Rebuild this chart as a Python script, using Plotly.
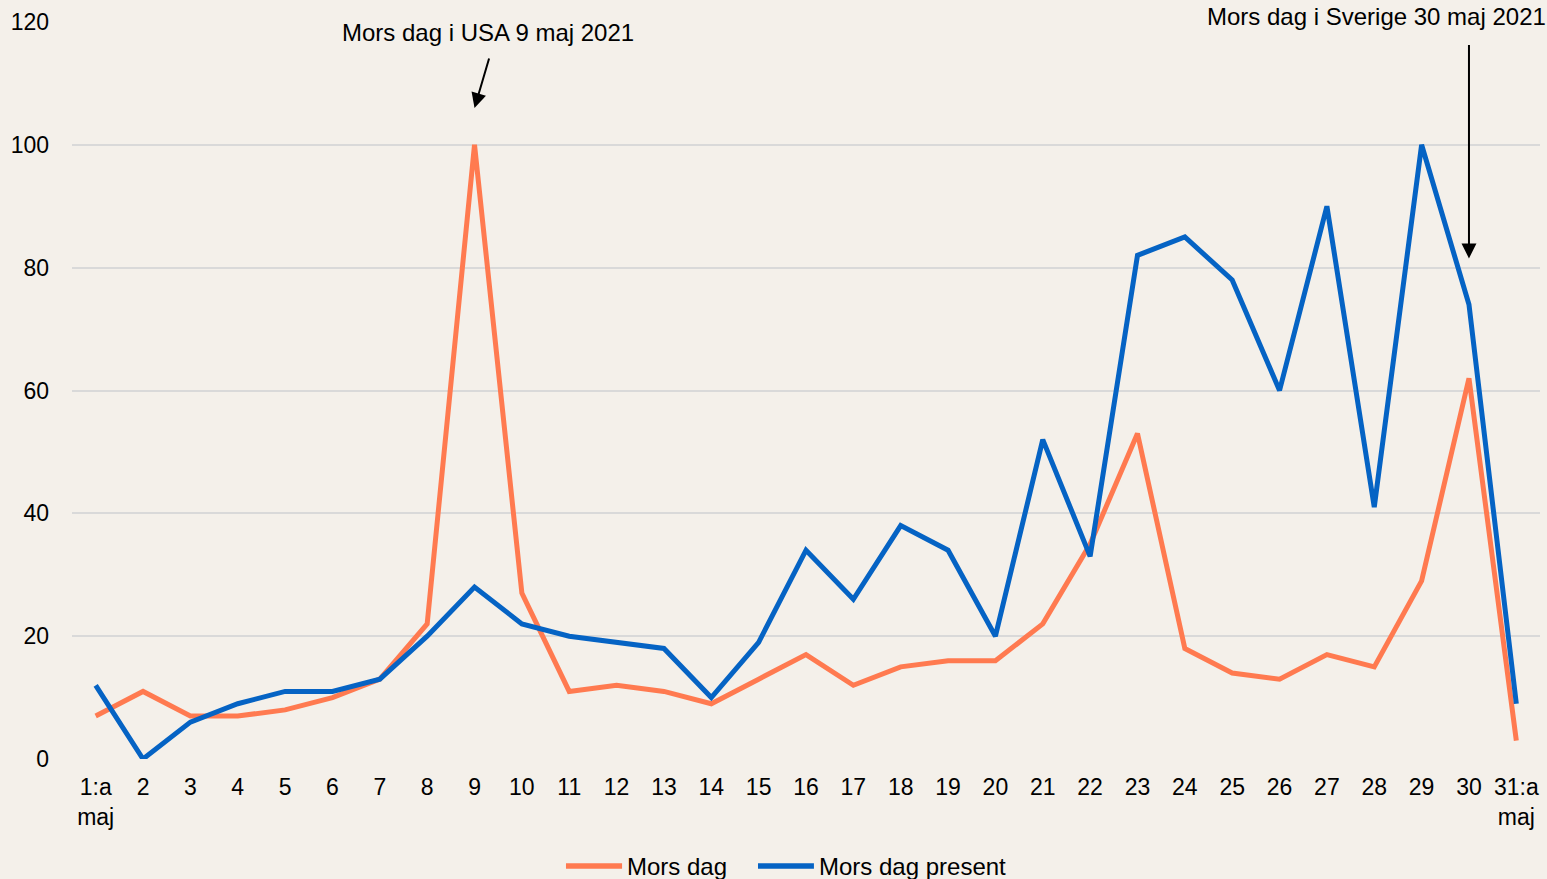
import plotly.graph_objects as go

BG = "#F4F0EA"
ORANGE = "#FF7A50"
BLUE = "#0563C4"
GRID = "#D9D9D9"
FONT = "Liberation Sans, Arial, sans-serif"

days = ["1:a<br>maj"] + [str(d) for d in range(2, 31)] + ["31:a<br>maj"]
mors_dag = [7, 11, 7, 7, 8, 10, 13, 22, 100, 27, 11, 12, 11, 9, 13, 17, 12, 15,
            16, 16, 22, 35, 53, 18, 14, 13, 17, 15, 29, 62, 3]
mors_dag_present = [12, 0, 6, 9, 11, 11, 13, 20, 28, 22, 20, 19, 18, 10, 19, 34, 26,
                    38, 34, 20, 52, 33, 82, 85, 78, 60, 90, 41, 100, 74, 9]
series = [("Mors dag", mors_dag, ORANGE), ("Mors dag present", mors_dag_present, BLUE)]

fig = go.Figure()
for name, vals, col in series:
    fig.add_trace(go.Scatter(
        x=days, y=vals, mode="lines", name=name,
        line=dict(color=col, width=5),
    ))

# category axis: annotation x is the category index
usa_idx = 8
swe_idx = 29
annotations = [
    dict(x=usa_idx, y=106, xref="x", yref="y", text="", showarrow=True,
         ax=15, ay=-51, arrowhead=2, arrowsize=1.5, arrowwidth=2, arrowcolor="black"),
    dict(x=usa_idx, y=0.9864, xref="x", yref="paper", xshift=13, yanchor="middle",
         text="Mors dag i USA 9 maj 2021",
         showarrow=False, font=dict(size=24, color="black", family=FONT)),
    dict(x=swe_idx, y=81.5, xref="x", yref="y", text="", showarrow=True,
         ax=0, ay=-215, arrowhead=2, arrowsize=1.5, arrowwidth=2, arrowcolor="black"),
    dict(x=1.0057, y=1.0068, xref="paper", yref="paper", xanchor="right", yanchor="middle",
         text="Mors dag i Sverige 30 maj 2021",
         showarrow=False, font=dict(size=24, color="black", family=FONT)),
]

# hand-placed legend below the plot (plotly's own legend shrinks the plot area)
shapes = []
leg_y = -0.1452
leg_items = [(0.3365, 0.3747, 0.3767), (0.4673, 0.5054, 0.5075)]
for (name, _, col), (x0, x1, xt) in zip(series, leg_items):
    shapes.append(dict(type="line", xref="paper", yref="paper", x0=x0, x1=x1,
                       y0=leg_y, y1=leg_y, line=dict(color=col, width=5.5)))
    annotations.append(dict(x=xt, y=leg_y, xref="paper", yref="paper", xanchor="left",
                            yanchor="middle", text=name, showarrow=False,
                            font=dict(size=24, color="black", family=FONT)))

fig.update_layout(
    width=1547, height=879,
    paper_bgcolor=BG, plot_bgcolor=BG,
    font=dict(family=FONT, size=23, color="black"),
    margin=dict(l=72, r=7, t=22, b=120),
    xaxis=dict(type="category", showgrid=False, zeroline=False, showline=False,
               ticks="", tickfont=dict(size=23), range=[-0.5, 30.5],
               ticklabelstandoff=12),
    yaxis=dict(range=[0, 120], dtick=20, gridcolor=GRID, gridwidth=2,
               zeroline=False, showline=False, ticks="", tickfont=dict(size=23),
               ticklabelstandoff=22),
    showlegend=False,
    annotations=annotations,
    shapes=shapes,
)

fig.write_html("out.html", config={"displayModeBar": False},
               post_script="document.body.style.margin='0';")
